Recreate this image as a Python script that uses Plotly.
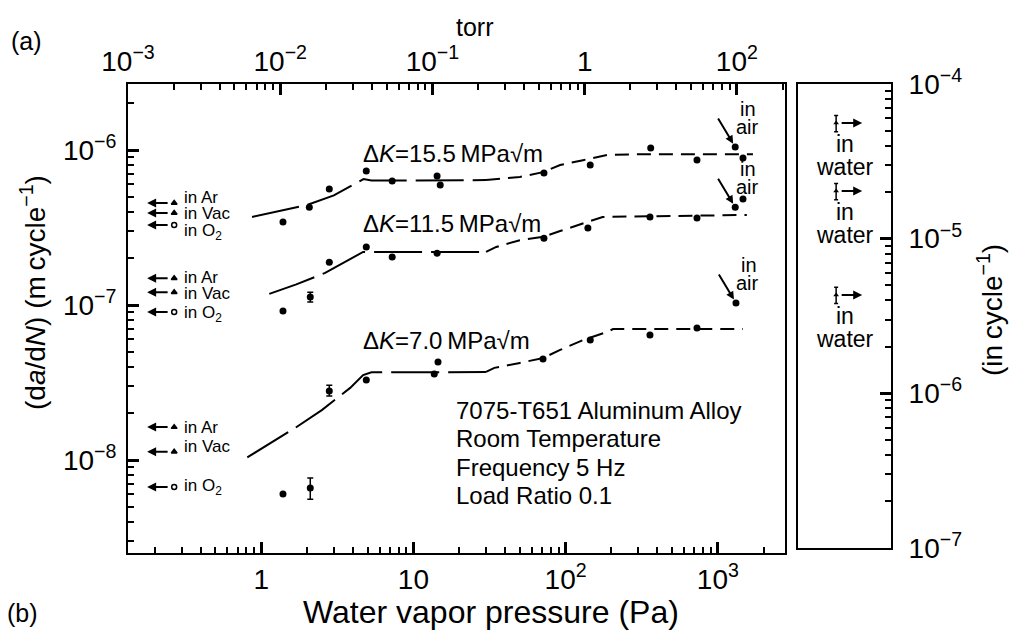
import plotly.graph_objects as go
import math

PA_PER_TORR = 133.322
M_PER_IN = 0.0254
FONT = "Liberation Sans, Arial, Helvetica, sans-serif"

# ---------------- data ----------------
pressure_155 = [1.39, 2.07, 2.8, 4.9, 7.25, 14.3, 15.0, 72, 145, 362, 729, 1462]
rate_155 = [3.43e-7, 4.28e-7, 5.6e-7, 7.32e-7, 6.31e-7, 6.8e-7, 5.94e-7, 7.11e-7, 8.0e-7, 1.03e-6, 8.62e-7, 8.88e-7]
air_pressure_155 = [1300]
air_rate_155 = [1.045e-6]
fit155_lo_p = [0.87, 1.4, 2.0, 3.0, 4.7, 5.3, 10, 20, 30]
fit155_lo_r = [3.7e-7, 4.08e-7, 4.42e-7, 5.1e-7, 6.5e-7, 6.35e-7, 6.35e-7, 6.38e-7, 6.4e-7]
fit155_hi_p = [30, 50, 71, 92, 130, 187, 300, 1700]
fit155_hi_r = [6.4e-7, 6.7e-7, 7.2e-7, 8.0e-7, 8.6e-7, 9.3e-7, 9.4e-7, 9.4e-7]

pressure_115 = [1.39, 2.1, 2.8, 4.9, 7.25, 14.3, 72, 140, 358, 729, 1462]
rate_115 = [9.14e-8, 1.127e-7, 1.89e-7, 2.37e-7, 2.04e-7, 2.16e-7, 2.70e-7, 3.14e-7, 3.70e-7, 3.64e-7, 4.83e-7]
err_plus_115 = [0, 0.08e-7, 0, 0, 0, 0, 0, 0, 0, 0, 0]
err_minus_115 = [0, 0.08e-7, 0, 0, 0, 0, 0, 0, 0, 0, 0]
air_pressure_115 = [1300]
air_rate_115 = [4.28e-7]
fit115_lo_p = [1.13, 1.7, 2.63, 3.5, 4.67, 5.3, 10, 20, 30]
fit115_lo_r = [1.18e-7, 1.36e-7, 1.61e-7, 1.87e-7, 2.2e-7, 2.2e-7, 2.2e-7, 2.2e-7, 2.2e-7]
fit115_hi_p = [30, 35, 50, 71, 92, 130, 175, 1550]
fit115_hi_r = [2.2e-7, 2.37e-7, 2.62e-7, 2.75e-7, 3.0e-7, 3.35e-7, 3.7e-7, 3.81e-7]

pressure_70 = [1.39, 2.1, 2.8, 4.9, 13.7, 14.5, 71, 145, 358, 729]
rate_70 = [6.04e-9, 6.59e-9, 2.79e-8, 3.28e-8, 3.59e-8, 4.29e-8, 4.49e-8, 5.94e-8, 6.4e-8, 7.1e-8]
err_plus_70 = [0, 1.07e-9, 2.5e-9, 0, 0, 0, 0, 0, 0, 0]
err_minus_70 = [0, 1.0e-9, 2.0e-9, 0, 0, 0, 0, 0, 0, 0]
air_pressure_70 = [1315]
air_rate_70 = [1.03e-7]
fit70_lo_p = [0.81, 1.67, 2.5, 3.84, 4.67, 5.3, 10, 20, 30]
fit70_lo_r = [1.04e-8, 1.61e-8, 2.1e-8, 2.92e-8, 3.53e-8, 3.68e-8, 3.68e-8, 3.7e-8, 3.7e-8]
fit70_hi_p = [30, 34, 50, 71, 92, 130, 187, 205, 1460]
fit70_hi_r = [3.7e-8, 3.93e-8, 4.23e-8, 4.55e-8, 5.13e-8, 5.94e-8, 6.7e-8, 7.0e-8, 7.0e-8]

gas_labels = ["in Ar", "in Vac", "in O<sub>2</sub>"]
gas_symbols = ["triangle-up", "triangle-up", "circle-open"]
gas_rate_155 = [4.55e-7, 3.93e-7, 3.28e-7]
gas_rate_115 = [1.49e-7, 1.21e-7, 9.0e-8]
gas_rate_70 = [1.63e-8, 1.13e-8, 6.7e-9]
gas_pressure = 0.268
gas_arrow_head = 0.178
gas_text_pressure = 0.300
gas_text_shift_155 = [6, -1, -7]
gas_text_shift_115 = [1, -1, -2]
gas_text_shift_70 = [0, 5, 0]

water_rate_m = [1.42e-6, 5.16e-7, 1.10e-7]
water_marker_x = 0.41
water_arrow_head_x = 0.69
water_text_x = 0.505

x_tickvals = [1, 10, 100, 1000]
x_ticktext = ["1", "10", "10<sup>2</sup>", "10<sup>3</sup>"]
torr_tickvals = [0.001, 0.01, 0.1, 1, 10]
torr_ticktext = ["10<sup>\u22123</sup>", "10<sup>\u22122</sup>", "10<sup>\u22121</sup>", "1", "10<sup>2</sup>"]
y_tickvals = [1e-8, 1e-7, 1e-6]
y_ticktext = ["10<sup>\u22128</sup>", "10<sup>\u22127</sup>", "10<sup>\u22126</sup>"]
yin_tickvals = [1e-7, 1e-6, 1e-5, 1e-4]
yin_ticktext = ["10<sup>\u22127</sup>", "10<sup>\u22126</sup>", "10<sup>\u22125</sup>", "10<sup>\u22124</sup>"]

conditions = ["7075-T651 Aluminum Alloy", "Room Temperature", "Frequency 5 Hz", "Load Ratio 0.1"]

L, R, T, B = 128, 121, 84, 84
W, H = 1012, 637
PW, PH = W - L - R, H - T - B


def paper_x(px):
    return (px - L) / PW


def paper_y(py):
    return (H - B - py) / PH


x_range = [-0.8752, 3.441]
torr_range = [x_range[0] - math.log10(PA_PER_TORR), x_range[1] - math.log10(PA_PER_TORR)]
y_range = [-8.6, -5.574]

fig = go.Figure()
BLACK = "black"


def add_points(x, y, ep=None, em=None):
    kw = {}
    if ep is not None:
        kw["error_y"] = dict(type="data", symmetric=False, array=ep, arrayminus=em,
                             color=BLACK, thickness=1.5, width=3)
    fig.add_trace(go.Scatter(x=x, y=y, mode="markers",
                             marker=dict(color=BLACK, size=7, line=dict(width=0)),
                             showlegend=False, hoverinfo="skip", **kw))


def add_fit(x, y, dash):
    fig.add_trace(go.Scatter(x=x, y=y, mode="lines", line=dict(color=BLACK, width=2, dash=dash),
                             showlegend=False, hoverinfo="skip"))


LONG = "48px,9px"
SHORT = "14px,8px"
for lo_p, lo_r, hi_p, hi_r in [(fit155_lo_p, fit155_lo_r, fit155_hi_p, fit155_hi_r),
                               (fit115_lo_p, fit115_lo_r, fit115_hi_p, fit115_hi_r),
                               (fit70_lo_p, fit70_lo_r, fit70_hi_p, fit70_hi_r)]:
    add_fit(lo_p, lo_r, LONG)
    add_fit(hi_p, hi_r, SHORT)

add_points(pressure_155, rate_155)
add_points(pressure_115, rate_115, err_plus_115, err_minus_115)
add_points(pressure_70, rate_70, err_plus_70, err_minus_70)
for ap, ar in [(air_pressure_155, air_rate_155), (air_pressure_115, air_rate_115), (air_pressure_70, air_rate_70)]:
    add_points(ap, ar)

for rates in [gas_rate_155, gas_rate_115, gas_rate_70]:
    fig.add_trace(go.Scatter(x=[gas_pressure] * len(rates), y=rates, mode="markers",
                             marker=dict(color=BLACK, size=5, symbol=gas_symbols,
                                         line=dict(color=BLACK, width=1.5)),
                             showlegend=False, hoverinfo="skip"))

fig.add_trace(go.Scatter(x=[0.01], y=[1e-7], xaxis="x2", yaxis="y", mode="markers",
                         marker=dict(opacity=0), showlegend=False, hoverinfo="skip"))

water_rate_in = [r / M_PER_IN for r in water_rate_m]
fig.add_trace(go.Scatter(x=[water_marker_x] * len(water_rate_in), y=water_rate_in, mode="markers",
                         xaxis="x3", yaxis="y3",
                         marker=dict(color=BLACK, size=5, symbol="triangle-up"),
                         error_y=dict(type="percent", value=12, color=BLACK, thickness=1.5, width=2),
                         showlegend=False, hoverinfo="skip"))

annotations = []


def txt(x, y, text, size, xref="paper", yref="paper", xanchor="center", yanchor="middle", **kw):
    d = dict(x=x, y=y, xref=xref, yref=yref, text=text, showarrow=False,
             xanchor=xanchor, yanchor=yanchor, font=dict(size=size, family=FONT, color=BLACK))
    d.update(kw)
    annotations.append(d)


for rates, shifts in [(gas_rate_155, gas_text_shift_155), (gas_rate_115, gas_text_shift_115),
                      (gas_rate_70, gas_text_shift_70)]:
    for lab, r, s in zip(gas_labels, rates, shifts):
        annotations.append(dict(x=math.log10(gas_arrow_head), y=math.log10(r), xref="x", yref="y",
                                text="", showarrow=True, ax=22, ay=0, arrowhead=2,
                                arrowsize=0.9, arrowwidth=2, arrowcolor=BLACK))
        txt(math.log10(gas_text_pressure), math.log10(r), lab, 17, xref="x", yref="y",
            xanchor="left", yshift=s)

for ap, ar in [(air_pressure_155, air_rate_155), (air_pressure_115, air_rate_115), (air_pressure_70, air_rate_70)]:
    xx, yy = math.log10(ap[0]), math.log10(ar[0])
    annotations.append(dict(x=xx, y=yy, xref="x", yref="y", text="", showarrow=True,
                            ax=-18, ay=-30, arrowhead=2, arrowsize=0.8, arrowwidth=2,
                            arrowcolor=BLACK, standoff=4))
    txt(xx, yy, "in", 20, xref="x", yref="y", xshift=13, yshift=38)
    txt(xx, yy, "air", 20, xref="x", yref="y", xshift=12, yshift=20)

for r in water_rate_in:
    yy = math.log10(r)
    annotations.append(dict(x=water_arrow_head_x, y=yy, xref="x3", yref="y3", text="",
                            showarrow=True, ax=-22, ay=0, arrowhead=2, arrowsize=0.9,
                            arrowwidth=2, arrowcolor=BLACK))
    txt(water_text_x, yy, "in", 23, xref="x3", yref="y3", yshift=-21)
    txt(water_text_x, yy, "water", 23, xref="x3", yref="y3", yshift=-44)

for t, py in [("\u0394<i>K</i>=15.5\u2009MPa\u221am", 153),
              ("\u0394<i>K</i>=11.5\u2009MPa\u221am", 223),
              ("\u0394<i>K</i>=7.0\u2009MPa\u221am", 341)]:
    txt(paper_x(361), paper_y(py), t, 24, xanchor="left")

for line, py in zip(conditions, [410, 438, 467, 495]):
    txt(paper_x(454), paper_y(py), line, 24, xanchor="left")

txt(paper_x(26), paper_y(41), "(a)", 25)
txt(paper_x(22), paper_y(613), "(b)", 25)
txt(paper_x(475), paper_y(27), "torr", 25)
txt(paper_x(491), paper_y(612), "Water vapor pressure (Pa)", 32)
txt(paper_x(33), paper_y(293), "(d<i>a</i>/d<i>N</i>) (m\u2009cycle<sup>\u22121</sup>)", 28, textangle=-90)
txt(paper_x(990), paper_y(310), "(in\u2009cycle<sup>\u22121</sup>)", 28, textangle=-90)

MINOR = dict(ticks="inside", ticklen=6, tickwidth=2, tickcolor=BLACK, dtick="D1", showgrid=False)

tickfont = dict(size=28, family=FONT, color=BLACK)
common = dict(type="log", showgrid=False, zeroline=False, ticks="inside", ticklen=11, tickwidth=2.5,
              tickcolor=BLACK, showline=True, linecolor=BLACK, linewidth=2, tickfont=tickfont,
              tickmode="array", minor=MINOR)

fig.update_layout(
    width=W, height=H, autosize=False,
    margin=dict(l=L, r=R, t=T, b=B),
    paper_bgcolor="white", plot_bgcolor="white",
    font=dict(family=FONT, color=BLACK),
    showlegend=False,
    xaxis=dict(**common, domain=[0, paper_x(785)], range=x_range, anchor="y", mirror=True,
               tickvals=x_tickvals, ticktext=x_ticktext, ticklabelstandoff=0),
    xaxis2=dict(**common, overlaying="x", side="top", anchor="y", range=torr_range,
                tickvals=torr_tickvals, ticktext=torr_ticktext, ticklabelstandoff=0),
    yaxis=dict(**common, domain=[0, 1], range=y_range, anchor="x", mirror=True,
               tickvals=y_tickvals, ticktext=y_ticktext, ticklabelstandoff=4),
    xaxis3=dict(domain=[paper_x(798), 1], range=[0, 1], anchor="y3", showgrid=False, zeroline=False,
                showticklabels=False, ticks="", showline=True, mirror=True,
                linecolor=BLACK, linewidth=2),
    yaxis3=dict(**common, domain=[paper_y(548), 1], range=[-7, -4], anchor="x3", side="right",
                mirror=True, tickvals=yin_tickvals, ticktext=yin_ticktext, ticklabelstandoff=10),
    annotations=annotations,
)

fig.write_html("out.html", post_script="document.body.style.margin='0';",
               config={"displayModeBar": False})
